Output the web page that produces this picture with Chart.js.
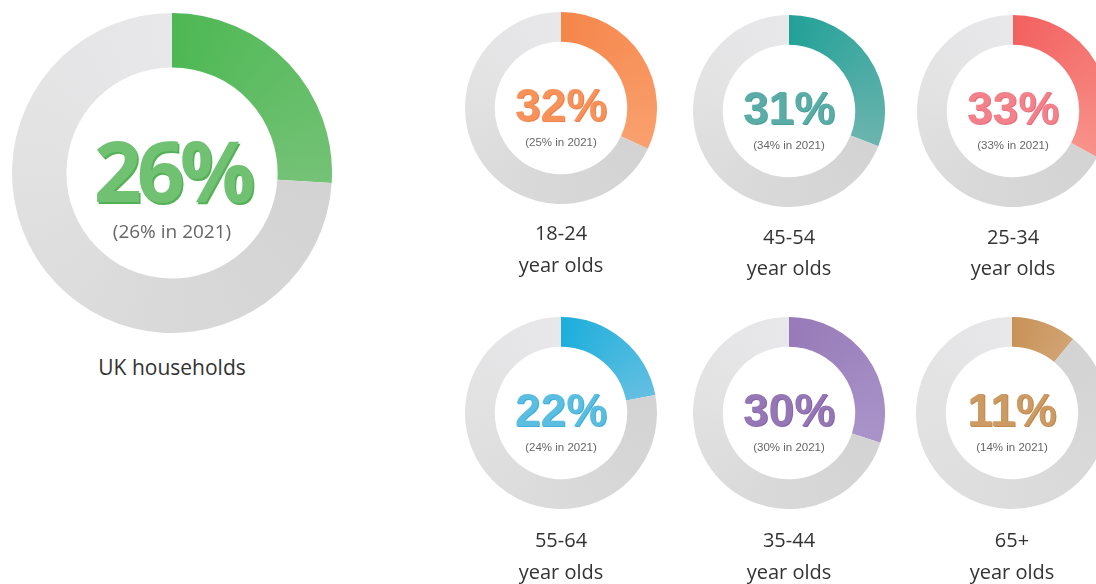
<!DOCTYPE html>
<html lang="en">
  <head>
    <meta charset="UTF-8" />
    <title>Households by age group</title>
    <style>
      body {
        margin: 0;
        width: 1096px;
        height: 584px;
        overflow: hidden;
        background: #fff;
        position: relative;
      }
      canvas {
        position: absolute;
      }
      .pct {
        position: absolute;
        transform: translate(-50%, -50%);
        font-family: "Liberation Sans", Arial, sans-serif;
        font-weight: bold;
        white-space: nowrap;
        line-height: 1;
      }
      .prev {
        position: absolute;
        transform: translate(-50%, -50%);
        font-family: "Liberation Sans", Arial, sans-serif;
        color: #666;
        white-space: nowrap;
        line-height: 1;
      }
      .lbl {
        position: absolute;
        transform: translate(-50%, -50%);
        font-family: "Open Sans", sans-serif;
        font-size: 20px;
        color: #333;
        white-space: nowrap;
        line-height: 1;
      }
    </style>
    <script src="https://cdn.jsdelivr.net/npm/chart.js"></script>
  </head>
  <body>
    <script>
      const groups = ["UK households", "18-24", "45-54", "25-34", "55-64", "35-44", "65+"];
      const shares = [26, 32, 31, 33, 22, 30, 11]; // current %
      const shares2021 = [26, 25, 34, 33, 24, 30, 14]; // % in 2021

      // arc colours (start, end), text colour, text edge colour
      const arcStart = ["#4db853", "#f5864a", "#22a198", "#f26160", "#1caedc", "#977ab8", "#c89257"];
      const arcEnd = ["#74c276", "#f9a06e", "#6bb4ae", "#f8928a", "#63bfe1", "#a994c9", "#d1a372"];
      const textCol = ["#70c172", "#f7925a", "#5aada6", "#f2818b", "#5bbde0", "#9677b6", "#cc9a62"];
      const edgeCol = ["#55b158", "#ec8048", "#49a098", "#e76f7b", "#3fb0d8", "#8466a8", "#bd8a52"];

      // layout: centre x, centre y, radius, label y's
      const layout = [
        { x: 172, y: 173, r: 160, cut: "66%", big: true, ly: [367] },
        { x: 561, y: 108, r: 96, cut: "69%", ly: [233, 265] },
        { x: 789, y: 111, r: 96, cut: "69%", ly: [237, 268] },
        { x: 1013, y: 111, r: 96, cut: "69%", ly: [237, 268] },
        { x: 561, y: 413, r: 96, cut: "69%", ly: [540, 572] },
        { x: 789, y: 413, r: 96, cut: "69%", ly: [540, 572] },
        { x: 1012, y: 413, r: 96, cut: "69%", ly: [540, 572] },
      ];

      function addDiv(cls, text, x, y, css) {
        const d = document.createElement("div");
        d.className = cls;
        d.textContent = text;
        d.style.left = x + "px";
        d.style.top = y + "px";
        Object.assign(d.style, css || {});
        document.body.appendChild(d);
      }

      groups.forEach((name, i) => {
        const L = layout[i];
        const canvas = document.createElement("canvas");
        canvas.width = L.r * 2;
        canvas.height = L.r * 2;
        canvas.style.left = L.x - L.r + "px";
        canvas.style.top = L.y - L.r + "px";
        document.body.appendChild(canvas);

        const frac = shares[i] / 100;

        new Chart(canvas, {
          type: "doughnut",
          data: {
            labels: [name, "Other"],
            datasets: [
              {
                data: [shares[i], 100 - shares[i]],
                borderWidth: 0,
                backgroundColor: (ctx) => {
                  const area = ctx.chart.chartArea;
                  if (!area) return "#ddd";
                  const c = ctx.chart.ctx;
                  const cx = (area.left + area.right) / 2;
                  const cy = (area.top + area.bottom) / 2;
                  const g = c.createConicGradient(-Math.PI / 2, cx, cy);
                  if (ctx.dataIndex === 0) {
                    g.addColorStop(0, arcStart[i]);
                    g.addColorStop(frac, arcEnd[i]);
                    g.addColorStop(1, arcEnd[i]);
                  } else {
                    g.addColorStop(0, "#d2d2d2");
                    g.addColorStop(frac, "#d3d3d3");
                    g.addColorStop(Math.min(frac + 0.25, 0.6), "#d9d9d9");
                    g.addColorStop(0.8, "#e3e3e4");
                    g.addColorStop(1, "#e8e8ea");
                  }
                  return g;
                },
              },
            ],
          },
          options: {
            responsive: false,
            cutout: L.cut,
            animation: false,
            events: [],
            plugins: {
              legend: { display: false },
              tooltip: { enabled: false },
            },
          },
        });

        if (L.big) {
          addDiv("pct", shares[i] + "%", L.x, L.y - 3, {
            fontFamily: '"Open Sans", sans-serif',
            fontSize: "84px",
            letterSpacing: "-5px",
            color: textCol[i],
            textShadow: "1.5px 1.5px 0 " + edgeCol[i],
          });
          addDiv("prev", "(" + shares2021[i] + "% in 2021)", L.x, L.y + 58, {
            fontFamily: '"Open Sans", sans-serif',
            fontSize: "19px",
          });
          addDiv("lbl", name, L.x, L.ly[0], { fontSize: "21px" });
        } else {
          addDiv("pct", shares[i] + "%", L.x, L.y - 3, {
            fontSize: "46px",
            color: textCol[i],
            textShadow: "1px 1px 0 " + edgeCol[i],
          });
          addDiv("prev", "(" + shares2021[i] + "% in 2021)", L.x, L.y + 35, {
            fontSize: "11.5px",
          });
          addDiv("lbl", name, L.x, L.ly[0]);
          addDiv("lbl", "year olds", L.x, L.ly[1]);
        }
      });
    </script>
  </body>
</html>
